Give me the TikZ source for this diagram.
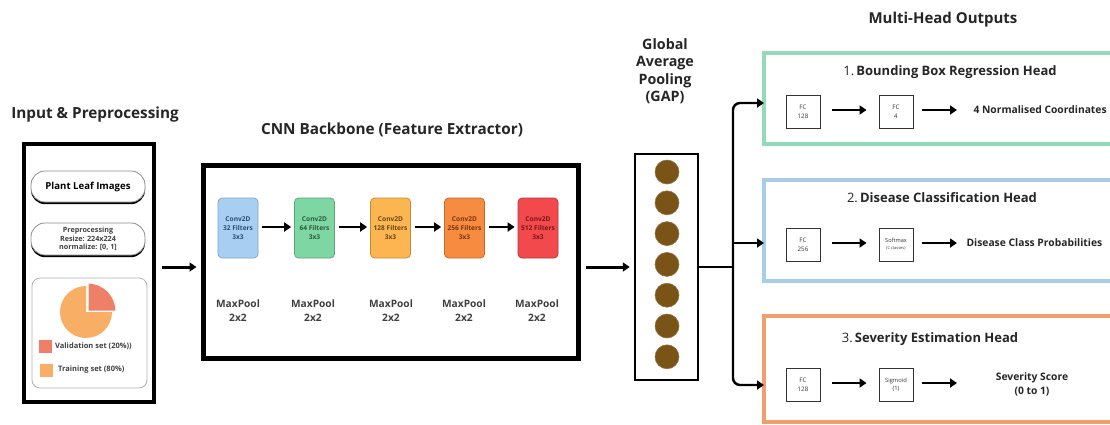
\documentclass[tikz,border=0pt]{standalone}
\usepackage{fontspec}
\setmainfont{Open Sans}
\usetikzlibrary{arrows.meta,shadows}
\definecolor{cblue}{HTML}{A8CFF2}\definecolor{cblued}{HTML}{7FA3C4}\definecolor{cbluet}{HTML}{2C4D6E}
\definecolor{cgreen}{HTML}{7ED6A3}\definecolor{cgreend}{HTML}{5AA57A}\definecolor{cgreent}{HTML}{2D5A40}
\definecolor{cyel}{HTML}{FBB652}\definecolor{cyeld}{HTML}{C68A32}\definecolor{cyelt}{HTML}{6A4510}
\definecolor{corg}{HTML}{F78B3F}\definecolor{corgd}{HTML}{C2692C}\definecolor{corgt}{HTML}{7A3510}
\definecolor{cred}{HTML}{F2494C}\definecolor{credd}{HTML}{B83538}\definecolor{credt}{HTML}{7A1515}
\definecolor{piebig}{HTML}{F9AE66}\definecolor{piesm}{HTML}{EF8068}
\definecolor{gapdot}{HTML}{7A5317}
\definecolor{hgreen}{HTML}{93DBB8}\definecolor{hblue}{HTML}{A8CDE6}\definecolor{horg}{HTML}{EE9F6C}
\definecolor{txt}{HTML}{262626}
\tikzset{
  arr/.style={line width=2.6pt, draw=black, -{Triangle[length=7pt,width=9pt]}},
  bigtitle/.style={font=\bfseries\fontsize{15.3}{17.5}\selectfont, text=txt, align=center},
  conv/.style={rounded corners=4pt, minimum width=40pt, minimum height=60pt, line width=0.7pt, inner sep=0pt, align=center, font=\bfseries\fontsize{6.6}{9}\selectfont},
  pool/.style={font=\bfseries\fontsize{10.2}{14}\selectfont, text=black!75, align=center},
  fc/.style={draw=black!80, line width=0.9pt, minimum width=34pt, minimum height=33pt, inner sep=0pt, align=center, font=\fontsize{6.2}{9}\selectfont, text=black!80, fill=white},
  head/.style={line width=4pt, minimum width=361pt, inner sep=0pt},
  htitle/.style={font=\fontsize{13}{15}\selectfont, text=txt},
  outtxt/.style={font=\bfseries\fontsize{10.3}{14.5}\selectfont, text=txt, align=center},
  pill/.style={rounded corners=14pt, draw=black!45, line width=0.8pt, fill=white, minimum width=114pt, inner sep=0pt, align=center,
    drop shadow={shadow xshift=0pt, shadow yshift=-2.2pt, fill=black, opacity=1}},
  legtxt/.style={font=\bfseries\fontsize{7.5}{9}\selectfont, text=black!75, anchor=west, inner sep=0pt},
}
\begin{document}
\begin{tikzpicture}[x=1pt,y=-1pt]
\clip (0,0) rectangle (1110,424);
\fill[white] (0,0) rectangle (1110,424);
\coordinate (rowy) at (0,267);

% ---- Input
\node[bigtitle] (tin) at (95,115) {Input \& Preprocessing};
\node[draw=black, line width=4pt, minimum width=130pt, minimum height=258pt, inner sep=0pt] (inbox) at (89,273) {};
\node[pill, minimum height=31pt, font=\bfseries\fontsize{9.6}{12}\selectfont] (pl) at (88,186.5) {Plant Leaf Images};
\node[pill, minimum height=32pt, font=\bfseries\fontsize{7.2}{8.8}\selectfont, text=black!75] (pre) at (88,239) {Preprocessing\\Resize: 224x224\\normalize: [0, 1]};
\node[draw=black!30, line width=0.8pt, rounded corners=8pt, minimum width=115pt, minimum height=110pt, inner sep=0pt] (piebox) at (89.5,333) {};
\begin{scope}[shift={(86,312)}, x=1pt, y=1pt]
  \fill[piebig] (0,0) -- (90:26) arc[start angle=90, end angle=360, radius=26] -- cycle;
  \fill[piesm, draw=white, line width=1pt] (2,1) -- ++(0:28) arc[start angle=0, end angle=90, radius=28] -- cycle;
\end{scope}
\node[fill=piesm, minimum size=13pt, inner sep=0pt] (sq1) at (45.5,346) {};
\node[legtxt] (lt1) at (55,346) {Validation set (20\%))};
\node[fill=piebig, minimum size=13pt, inner sep=0pt] (sq2) at (46,370) {};
\node[legtxt] (lt2) at (58,370) {Training set (80\%)};

% ---- CNN
\node[bigtitle] (tcnn) at (392,130) {CNN Backbone (Feature Extractor)};
\node[draw=black, line width=5pt, minimum width=375pt, minimum height=193pt, inner sep=0pt] (cnn) at (390.5,261.5) {};
\node[conv, fill=cblue, draw=cblued, text=cbluet] (cv1) at (238,228) {Conv2D\\32 Filters\\3x3};
\node[conv, fill=cgreen, draw=cgreend, text=cgreent] (cv2) at (314.5,228) {Conv2D\\64 Filters\\3x3};
\node[conv, fill=cyel, draw=cyeld, text=cyelt] (cv3) at (390.5,228) {Conv2D\\128 Filters\\3x3};
\node[conv, fill=corg, draw=corgd, text=corgt] (cv4) at (464.5,228) {Conv2D\\256 Filters\\3x3};
\node[conv, fill=cred, draw=credd, text=credt] (cv5) at (538,228) {Conv2D\\512 Filters\\3x3};
\foreach \a/\b in {cv1/cv2,cv2/cv3,cv3/cv4,cv4/cv5}
  \draw[arr, line width=2.2pt, shorten <=4pt, shorten >=3pt] ([yshift=1pt]\a.east) -- ([yshift=1pt]\b.west);
\node[pool] (mp1) at (238,311) {MaxPool\\2x2};
\node[pool] (mp2) at (313,311) {MaxPool\\2x2};
\node[pool] (mp3) at (391,311) {MaxPool\\2x2};
\node[pool] (mp4) at (464,311) {MaxPool\\2x2};
\node[pool] (mp5) at (537,311) {MaxPool\\2x2};

\draw[arr, line width=3pt, shorten <=6pt, shorten >=4pt] (inbox.east |- rowy) -- (cnn.west |- rowy);

% ---- GAP
\node[bigtitle, font=\bfseries\fontsize{14.3}{17.5}\selectfont] (tgap) at (665,71) {Global\\Average\\Pooling\\(GAP)};
\node[draw=black, line width=2.5pt, minimum width=63pt, minimum height=226pt, inner sep=0pt] (gap) at (666.5,267) {};
\foreach \i in {0,...,6}
  \node[circle, fill=gapdot, draw=gapdot!80!white, line width=0.6pt, minimum size=24pt, inner sep=0pt] (d\i) at (667,172+30.8*\i) {};
\draw[arr, line width=3pt, shorten <=5pt, shorten >=4pt] (cnn.east |- rowy) -- (gap.west |- rowy);

% ---- Heads
\node[bigtitle, font=\bfseries\fontsize{15}{17}\selectfont] (tmh) at (943,20) {Multi-Head Outputs};
\node[head, draw=hgreen, minimum height=91pt] (h1) at (944.5,98.5) {};
\node[head, draw=hblue, minimum height=101pt] (h2) at (944.5,230.5) {};
\node[head, draw=horg, minimum height=106pt] (h3) at (944.5,369) {};

\coordinate (split) at (733,267);
\coordinate (in1) at (764,103);
\coordinate (in2) at (764,243);
\coordinate (in3) at (764,385);
\draw[line width=2.4pt] (gap.east |- rowy) -- (split);
\draw[arr, line width=2.4pt, rounded corners=7pt] (split) |- (in1);
\draw[arr, line width=2.4pt] (split |- in2) -- (in2);
\draw[arr, line width=2.4pt, rounded corners=7pt] (split) |- (in3);

% head 1
\node[htitle] (t1) at (950,72) {1.\,\textbf{Bounding Box Regression Head}};
\node[fc] (f11) at (803,111.5) {FC\\128};
\node[fc] (f12) at (896,111.5) {FC\\4};
\node[outtxt, anchor=west] (o1) at (970,110) {4 Normalised Coordinates};
\draw[arr, shorten <=12pt, shorten >=12pt] (f11.east |- o1) -- (f12.west |- o1);
\draw[arr, shorten <=9pt, shorten >=13pt] (f12.east |- o1) -- (o1.west);

% head 2
\node[htitle] (t2) at (942,198) {2.\,\textbf{Disease Classification Head}};
\node[fc] (f21) at (803,244.5) {FC\\256};
\node[fc, font=\fontsize{5.6}{7}\selectfont] (f22) at (896,244.5) {Softmax\\{\fontsize{4}{5}\selectfont (C classes)}};
\node[outtxt, anchor=west] (o2) at (963,243) {Disease Class Probabilities};
\draw[arr, shorten <=12pt, shorten >=12pt] (f21.east |- o2) -- (f22.west |- o2);
\draw[arr, shorten <=9pt, shorten >=6pt] (f22.east |- o2) -- (o2.west);

% head 3
\node[htitle] (t3) at (930,339) {3.\,\textbf{Severity Estimation Head}};
\node[fc] (f31) at (803,384.5) {FC\\128};
\node[fc, font=\fontsize{5.8}{8.5}\selectfont] (f32) at (896,384.5) {Sigmoid\\(1)};
\node[outtxt] (o3) at (1032,384.5) {Severity Score\\(0 to 1)};
\coordinate (e3) at (957,383);
\draw[arr, shorten <=12pt, shorten >=12pt] (f31.east |- e3) -- (f32.west |- e3);
\draw[arr, shorten <=9pt] (f32.east |- e3) -- (e3);
\end{tikzpicture}
\end{document}
